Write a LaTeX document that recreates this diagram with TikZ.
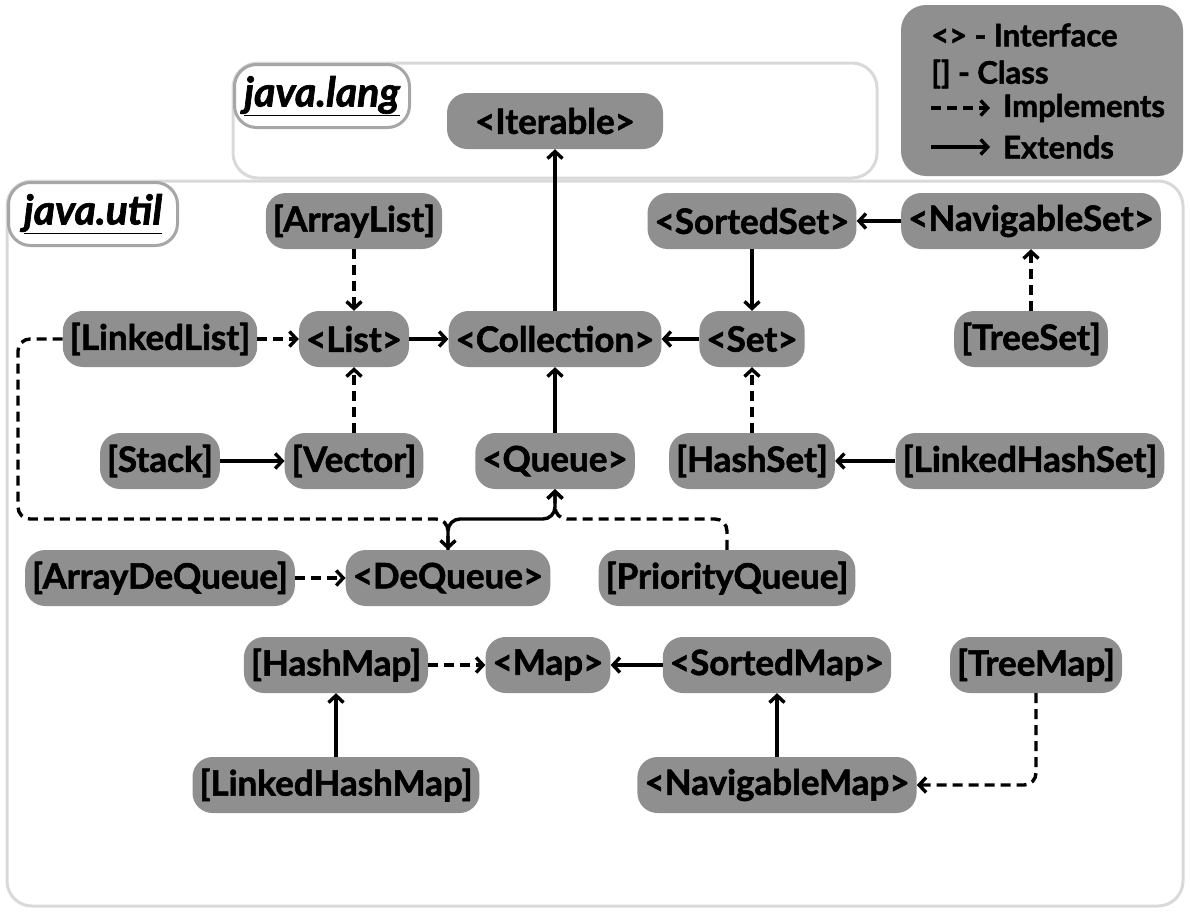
\documentclass[tikz,border=0pt]{standalone}
\usepackage{fontspec}
\setmainfont{Lato}[BoldFeatures={FakeBold=1.6}, BoldItalicFeatures={FakeBold=1.6}]
\usetikzlibrary{arrows.meta}

\definecolor{boxgray}{HTML}{8F8F8F}
\definecolor{framegray}{HTML}{D9D9D9}
\definecolor{taggray}{HTML}{A6A6A6}

\begin{document}
\begin{tikzpicture}[x=1pt,y=-1pt,
      graybox/.style={rectangle, rounded corners=20pt, fill=boxgray, minimum height=56pt,
        inner xsep=7pt, font=\fontsize{35}{38}\selectfont\bfseries},
      pkgtag/.style={rectangle, rounded corners=22pt, draw=taggray, line width=3pt, fill=white,
        minimum height=63pt, inner xsep=3pt, font=\fontsize{41}{44}\selectfont\bfseries\itshape},
      legendtext/.style={anchor=west, inner sep=0pt, font=\fontsize{31}{33}\selectfont\bfseries},
      ext/.style={line width=3.4pt, -{Straight Barb[length=7pt,width=15pt]}},
      impl/.style={ext, dash pattern=on 10pt off 6pt}]

    \useasboundingbox (0,0) rectangle (1190,916);

    % package frames and legend
    \draw[framegray, line width=3pt, rounded corners=25pt] (233,63) rectangle (877,178);
    \draw[framegray, line width=3pt, rounded corners=25pt] (7,181) rectangle (1183,906);
    \node[pkgtag, anchor=north west, minimum width=175pt] (lang) at (233,63) {\underline{java.lang}};
    \node[pkgtag, anchor=north west, minimum width=169pt] (util) at (7,181) {\underline{java.util}};

    \fill[boxgray, rounded corners=25pt] (901,5) rectangle (1183,176);
    \node[legendtext] (lgiface) at (931,35) {<> - Interface};
    \node[legendtext] (lgclass) at (931,74) {[] - Class};
    \node[legendtext] (lgimpl) at (1003,108) {Implements};
    \node[legendtext] (lgext) at (1003,147) {Extends};
    \coordinate (li1) at (931,108);
    \coordinate (li2) at (990,108);
    \coordinate (le1) at (931,147);
    \coordinate (le2) at (990,147);
    \draw[impl] (li1) -- (li2);
    \draw[ext] (le1) -- (le2);

    % collections
    \node[graybox, minimum width=216pt] (iterable) at (555,121) {<Iterable>};
    \node[graybox] (arraylist) at (354,221) {[ArrayList]};
    \node[graybox] (sortedset) at (752,221) {<SortedSet>};
    \node[graybox] (navset) at (1031,221) {<NavigableSet>};
    \node[graybox] (linkedlist) at (160,339) {[LinkedList]};
    \node[graybox] (list) at (354,339) {<List>};
    \node[graybox] (collection) at (555,339) {<Collection>};
    \node[graybox] (set) at (752,339) {<Set>};
    \node[graybox] (treeset) at (1031,339) {[TreeSet]};
    \node[graybox] (stack) at (160,461) {[Stack]};
    \node[graybox] (vector) at (354,461) {[Vector]};
    \node[graybox] (queue) at (555,461) {<Queue>};
    \node[graybox] (hashset) at (752,461) {[HashSet]};
    \node[graybox] (lhashset) at (1030,461) {[LinkedHashSet]};
    \node[graybox] (arraydq) at (160,578) {[ArrayDeQueue]};
    \node[graybox] (dequeue) at (448,578) {<DeQueue>};
    \node[graybox] (pqueue) at (727,578) {[PriorityQueue]};

    % maps
    \node[graybox] (hashmap) at (336,665) {[HashMap]};
    \node[graybox] (map) at (548,665) {<Map>};
    \node[graybox] (sortedmap) at (777,665) {<SortedMap>};
    \node[graybox] (treemap) at (1036,665) {[TreeMap]};
    \node[graybox] (lhashmap) at (336,785) {[LinkedHashMap]};
    \node[graybox] (navmap) at (777,785) {<NavigableMap>};

    \draw[impl] (arraylist) -- (list);
    \draw[impl] (linkedlist) -- (list);
    \draw[ext]  (list) -- (collection);
    \draw[ext]  (collection) -- (iterable);
    \draw[ext]  (set) -- (collection);
    \draw[ext]  (navset) -- (sortedset);
    \draw[ext]  (sortedset) -- (set);
    \draw[impl] (treeset) -- (navset);
    \draw[ext]  (stack) -- (vector);
    \draw[impl] (vector) -- (list);
    \draw[ext]  (queue) -- (collection);
    \draw[impl] (hashset) -- (set);
    \draw[ext]  (lhashset) -- (hashset);

    \draw[impl, rounded corners=12pt] (linkedlist.west) -- (18,339) -- (18,519) -- (448,519) -- (dequeue.north);
    \draw[ext, rounded corners=12pt] (dequeue.north) -- (448,519) -- (555,519) -- (queue.south);
    \draw[impl, rounded corners=12pt] (pqueue.north) -- (727,519) -- (555,519) -- (queue.south);
    \draw[impl] (arraydq) -- (dequeue);

    \draw[impl] (hashmap) -- (map);
    \draw[ext]  (sortedmap) -- (map);
    \draw[ext]  (lhashmap) -- (hashmap);
    \draw[ext]  (navmap) -- (sortedmap);
    \draw[impl, rounded corners=12pt] (treemap.south) -- (treemap.south |- navmap.east) -- (navmap.east);

  \end{tikzpicture}
\end{document}
